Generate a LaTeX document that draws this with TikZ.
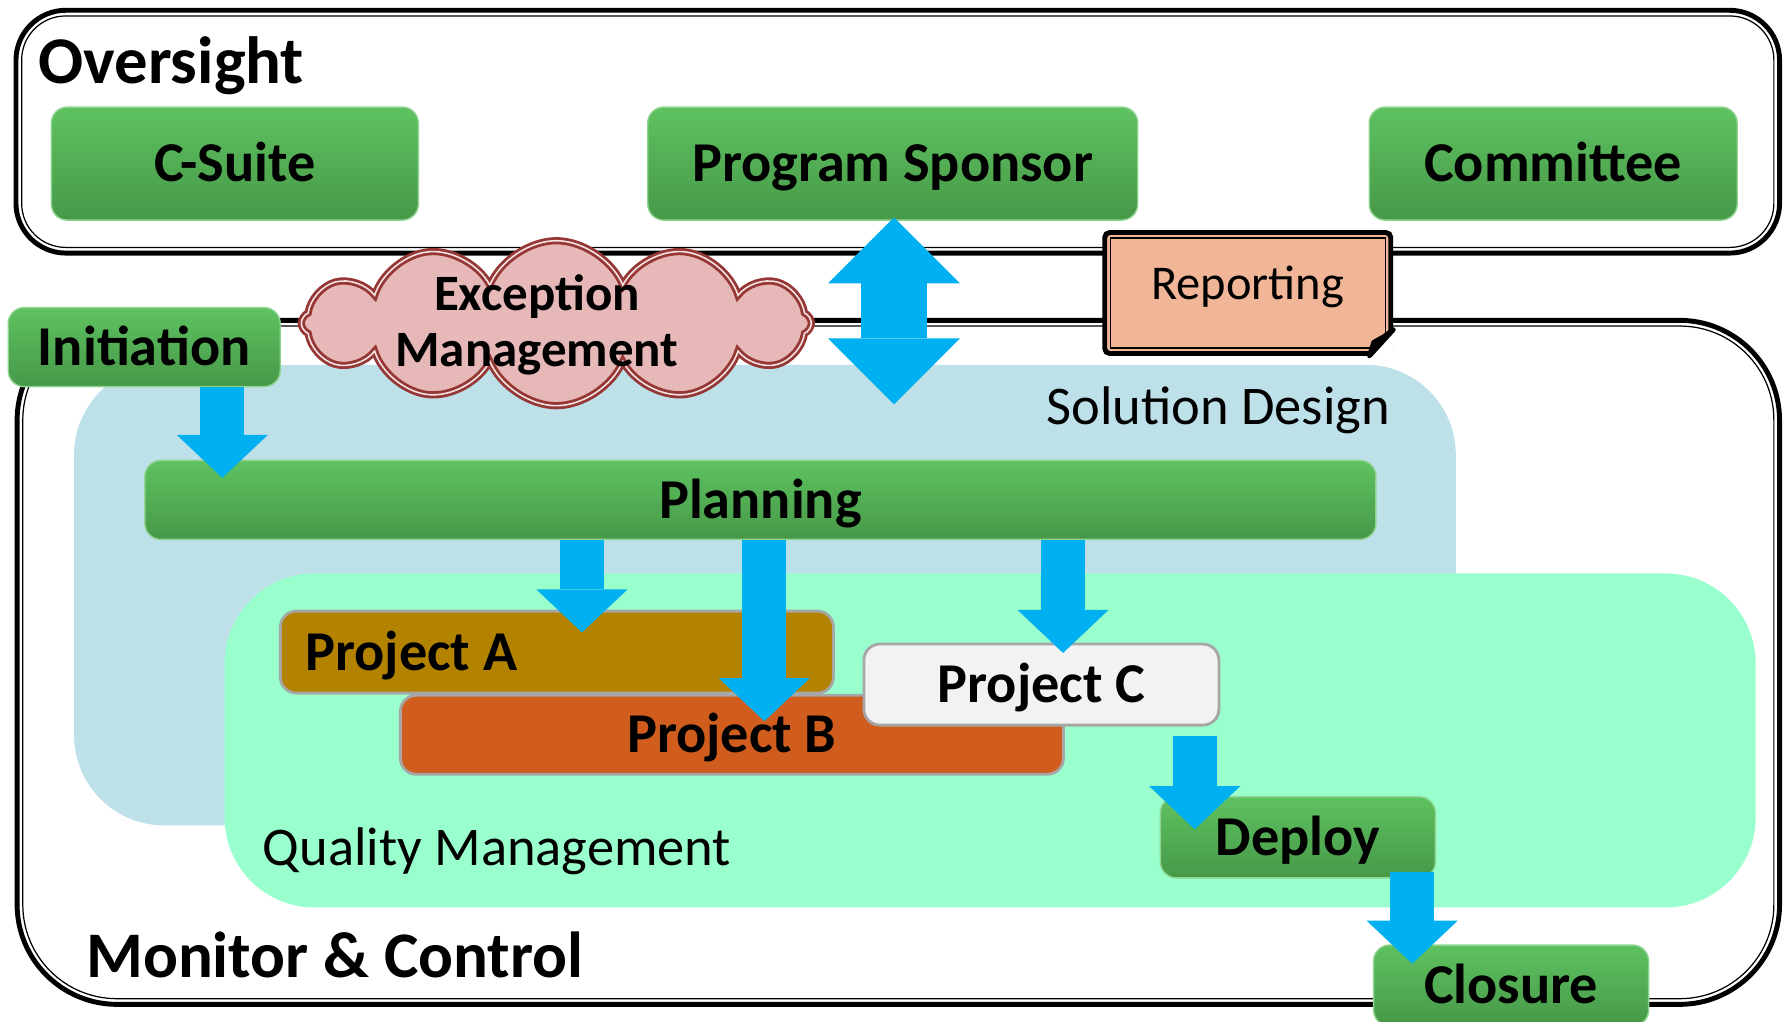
\documentclass[tikz,border=0pt]{standalone}
\usepackage{fontspec}
\setmainfont{Carlito}
\usetikzlibrary{positioning,calc,arrows.meta,shapes.symbols}

\definecolor{gtop}{HTML}{5EC260}
\definecolor{gbot}{HTML}{479848}
\definecolor{flowblue}{HTML}{00B0F0}
\definecolor{designblue}{HTML}{BEE0E9}
\definecolor{qualgreen}{HTML}{99FFCC}
\definecolor{cloudfill}{HTML}{E6B8B7}
\definecolor{cloudline}{HTML}{953735}
\definecolor{repfill}{HTML}{F1B698}
\definecolor{projgold}{HTML}{B38300}
\definecolor{projorange}{HTML}{D05D1E}
\definecolor{projwhite}{HTML}{F2F2F2}

\begin{document}
\begin{tikzpicture}[x=0.114mm,y=-0.114mm,
    phase/.style={rounded corners=1.6mm,top color=gtop,bottom color=gbot,draw=gtop!70!white,
        inner sep=0pt,text height=10.3pt,text depth=0pt,font=\bfseries\fontsize{16}{19}\selectfont},
    proj/.style={rounded corners=1.6mm,draw=black!35,line width=0.8pt,inner sep=0pt,
        text height=10.3pt,text depth=0pt,font=\bfseries\fontsize{16}{19}\selectfont},
    frame/.style={line width=1.4pt},
    frameinner/.style={line width=0.35pt},
    flow/.style={draw=flowblue,line width=4.4mm,-{Triangle[width=9.1mm,length=4.3mm,line width=0pt]}},
    title/.style={font=\bfseries\fontsize{19}{22}\selectfont,inner sep=0pt},
    area/.style={font=\fontsize{15.5}{18}\selectfont,inner sep=0pt}]
\useasboundingbox (0,0) rectangle (1568.4,895.6);

% frames and areas
\draw[frame,rounded corners=5mm] (14,9) rectangle (1561,222);
\draw[frameinner,rounded corners=4.4mm] (19,14) rectangle (1556,217);
\draw[frame,rounded corners=10mm] (15,281) rectangle (1561,881);
\draw[frameinner,rounded corners=9.4mm] (20,286) rectangle (1556,876);
\fill[designblue,rounded corners=9mm] (65,320) rectangle (1277,724);
\fill[qualgreen,rounded corners=9mm] (197,503) rectangle (1540,796);

\node[title,anchor=base west] (oversight) at (33,73) {Oversight};
\node[title,font=\bfseries\fontsize{18.5}{22}\selectfont,anchor=base west] (monitor) at (75,857) {Monitor \& Control};
\node[area,anchor=base east] (design) at (1220,372) {Solution Design};
\node[area,anchor=base west] (quality) at (230,759) {Quality Management};

% oversight row
\node[phase,minimum width=36.7mm,minimum height=11.3mm] (csuite) at (206,143.5) {C-Suite};
\node[phase,minimum width=49mm,minimum height=11.3mm,right=22.8mm of csuite] (sponsor) {Program Sponsor};
\node[phase,minimum width=36.8mm,minimum height=11.3mm,right=23mm of sponsor] (committee) {Committee};

\node[cloud,cloud puffs=12,cloud puff arc=135,cloud ignores aspect,minimum width=51mm,minimum height=16.5mm,
      fill=cloudfill,draw=cloudline,line width=0.8pt,double=cloudfill!40!white,double distance=0.45pt] (except) at (488,283.5) {};
\node[align=center,inner sep=0pt,font=\bfseries\fontsize{14.5}{16}\selectfont] (excepttext) at (471,285) {Exception\\Management};

\node[draw,line width=1.4pt,fill=repfill,rounded corners=0.5mm,minimum width=28.6mm,minimum height=12.1mm,
      text height=8.9pt,text depth=1.8mm,font=\fontsize{13.8}{16}\selectfont] (report) at (1094.5,257) {Reporting};
\draw[line width=0.35pt] ($(report.north west)+(7,7)$) rectangle ($(report.south east)+(-7,-7)$);
\fill[white] (report.south east) -- ($(report.south east)+(-22,1)$) -- ($(report.south east)+(1,-24)$) -- cycle;
\draw[line width=1.4pt,line join=round,fill=black!75] ($(report.south east)+(-21,0)$) -- ($(report.south east)+(0,-23)$)
      -- ($(report.south east)+(-8,-17)$) -- ($(report.south east)+(-17,-12)$) -- cycle;

\node[phase,minimum width=27.2mm,minimum height=7.9mm] (init) at (126.5,304.5) {Initiation};

% work
\node[phase,minimum width=123.1mm,minimum height=7.9mm] (plan) at (667,438.5) {Planning};
\node[proj,fill=projorange,minimum width=66.3mm,minimum height=7.9mm] (projB) at (642,644.5) {Project B};
\node[proj,fill=projgold,minimum width=55.3mm,minimum height=8.2mm] (projA) at (488.5,572) {\makebox[50.3mm][l]{Project A}};
\node[proj,fill=projwhite,minimum width=35.5mm,minimum height=8.1mm] (projC) at (913.5,600.5) {Project C};
\node[phase,minimum width=27.5mm,minimum height=8.1mm] (deploy) at (1138.5,734.5) {Deploy};
\node[phase,minimum width=27.5mm,minimum height=8.1mm] (closure) at (1325.5,864.5) {Closure};

% flows
\coordinate (sdown) at ($(sponsor.south)+(1,161)$);
\draw[flow,line width=6.6mm,{Triangle[width=13.2mm,length=6.6mm,line width=0pt]}-{Triangle[width=13.2mm,length=6.6mm,line width=0pt]}]
      ($(sponsor.south)+(1,-3)$) -- (sdown);
\draw[flow] ($(init.south)+(68.5,0)$) coordinate (i1) -- ($(i1 |- plan.north)+(0,16)$);
\draw[flow] ($(plan.south west)+(384,0)$) coordinate (p1) -- ($(p1 |- projA.north)+(0,20)$);
\draw[flow] ($(plan.south west)+(544,0)$) coordinate (p2) -- ($(p2 |- projB.north)+(0,24)$);
\draw[flow] ($(plan.south west)+(806,0)$) coordinate (p3) -- ($(p3 |- projC.north)+(0,9)$);
\draw[flow] ($(projC.south)+(134.5,8)$) coordinate (c1) -- ($(c1 |- deploy.north)+(0,29)$);
\draw[flow] ($(deploy.south east)+(-21,-6)$) coordinate (d1) -- ($(d1 |- closure.north)+(0,17)$);
\end{tikzpicture}
\end{document}
